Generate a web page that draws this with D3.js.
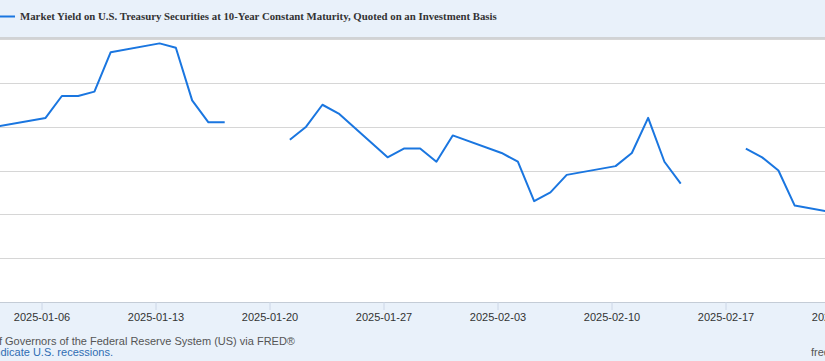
<!DOCTYPE html>
<html>
<head>
<meta charset="utf-8">
<script src="https://cdn.jsdelivr.net/npm/d3@7"></script>
<style>
  html, body { margin: 0; padding: 0; background: #fff; }
  svg { display: block; }
  .title { font-family: "Liberation Serif", "Times New Roman", serif; font-weight: bold; font-size: 10.8px; fill: #333; }
  .tick-lbl { font-family: "Liberation Sans", Arial, sans-serif; font-size: 11px; fill: #333; }
  .foot { font-family: "Liberation Sans", Arial, sans-serif; font-size: 11px; fill: #555; }
  .foot-link { fill: #2f6db3; }
</style>
</head>
<body>
<svg id="chart" width="825" height="361"></svg>
<script>
// DGS10 - rendimiento diario, ene-feb 2025 (null = festivo)
const dates = [
  "2025-01-02", "2025-01-03", "2025-01-06", "2025-01-07", "2025-01-08", "2025-01-09", "2025-01-10",
  "2025-01-13", "2025-01-14", "2025-01-15", "2025-01-16", "2025-01-17",
  "2025-01-20", "2025-01-21", "2025-01-22", "2025-01-23", "2025-01-24",
  "2025-01-27", "2025-01-28", "2025-01-29", "2025-01-30", "2025-01-31",
  "2025-02-03", "2025-02-04", "2025-02-05", "2025-02-06", "2025-02-07",
  "2025-02-10", "2025-02-11", "2025-02-12", "2025-02-13", "2025-02-14",
  "2025-02-17", "2025-02-18", "2025-02-19", "2025-02-20", "2025-02-21",
  "2025-02-24"
];
const yields = [
  4.57, 4.60, 4.62, 4.67, 4.67, 4.68, 4.77,
  4.79, 4.78, 4.66, 4.61, 4.61,
  null, 4.57, 4.60, 4.65, 4.63,
  4.53, 4.55, 4.55, 4.52, 4.58,
  4.54, 4.52, 4.43, 4.45, 4.49,
  4.51, 4.54, 4.62, 4.52, 4.47,
  null, 4.55, 4.53, 4.50, 4.42,
  4.40
];
const tickDates = ["2025-01-06", "2025-01-13", "2025-01-20", "2025-01-27", "2025-02-03", "2025-02-10", "2025-02-17", "2025-02-24"];
const yGrid = [4.2, 4.3, 4.4, 4.5, 4.6, 4.7, 4.8];

const seriesTitle = "Market Yield on U.S. Treasury Securities at 10-Year Constant Maturity, Quoted on an Investment Basis";
const sourceText = "Source: Board of Governors of the Federal Reserve System (US) via FRED®";
const shadeText = "Shaded areas indicate U.S. recessions.";

const W = 825, H = 361;
const LINE_COLOR = "#1a76e0";
const BAND_COLOR = "#e9f1fa";
const plotTop = 39, plotBottom = 302;

const parse = d3.utcParse("%Y-%m-%d");
const data = dates.map((d, i) => ({ date: parse(d), value: yields[i] }));

const svg = d3.select("#chart");

// el grafico original esta recortado: el eje x sigue fuera de la imagen
const x = d3.scaleUtc()
  .domain([parse("2025-01-06"), parse("2025-01-13")])
  .range([41.5, 155.5]);
const y = d3.scaleLinear().domain([4.2, 4.8]).range([plotBottom, plotTop]);

// las observaciones caen unas horas despues de la marca de medianoche
const dataX = d => x(d3.utcHour.offset(d, 6));

// fondos
svg.append("rect").attr("x", 0).attr("y", 0).attr("width", W).attr("height", H).attr("fill", BAND_COLOR);
svg.append("rect").attr("x", 0).attr("y", plotTop).attr("width", W).attr("height", plotBottom - plotTop).attr("fill", "#fff");
svg.append("line").attr("x1", 0).attr("x2", W).attr("y1", plotTop - 1).attr("y2", plotTop - 1)
  .attr("stroke", "#c9c9c9").attr("stroke-width", 1.5);

// rejilla horizontal
svg.append("g").selectAll("line")
  .data(yGrid.slice(1))
  .enter().append("line")
  .attr("x1", 0).attr("x2", W)
  .attr("y1", d => Math.round(y(d)) + 0.5)
  .attr("y2", d => Math.round(y(d)) + 0.5)
  .attr("stroke", "#d6d6d6")
  .attr("stroke-width", 1.2);

// eje x
svg.append("line").attr("x1", 0).attr("x2", W)
  .attr("y1", plotBottom + 0.5).attr("y2", plotBottom + 0.5)
  .attr("stroke", "#c4ccd6").attr("stroke-width", 1);

const xAxis = d3.axisBottom(x)
  .tickValues(tickDates.map(parse))
  .tickFormat(d3.utcFormat("%Y-%m-%d"))
  .tickSize(8)
  .tickPadding(3);

const gx = svg.append("g").attr("transform", `translate(0,${plotBottom})`).call(xAxis);
gx.select(".domain").remove();
gx.selectAll(".tick line").attr("stroke", "#ccd6e6");
gx.selectAll(".tick text").attr("class", "tick-lbl").attr("fill", null);

// serie
const line = d3.line()
  .defined(d => d.value !== null)
  .x(d => dataX(d.date))
  .y(d => y(d.value));

svg.append("path")
  .datum(data)
  .attr("fill", "none")
  .attr("stroke", LINE_COLOR)
  .attr("stroke-width", 2)
  .attr("stroke-linejoin", "round")
  .attr("d", line);

// leyenda
svg.append("line").attr("x1", -10).attr("x2", 15).attr("y1", 16.5).attr("y2", 16.5)
  .attr("stroke", LINE_COLOR).attr("stroke-width", 2);
svg.append("text").attr("class", "title").attr("x", 20).attr("y", 20).text(seriesTitle);

// pie: el texto empieza fuera del borde izquierdo
function placeCut(text, prefix, endX, yPos, cls) {
  const probe = svg.append("text").attr("class", cls).text(prefix);
  const w = probe.node().getComputedTextLength();
  probe.remove();
  svg.append("text").attr("class", cls).attr("x", endX - w).attr("y", yPos).text(text);
}
placeCut(sourceText, "Source: Board of", 2, 345, "foot");
placeCut(shadeText, "Shaded areas in", 0.5, 356, "foot foot-link");

svg.append("text").attr("class", "foot").attr("x", 811).attr("y", 356).text("fred.stlouisfed.org");
</script>
</body>
</html>
